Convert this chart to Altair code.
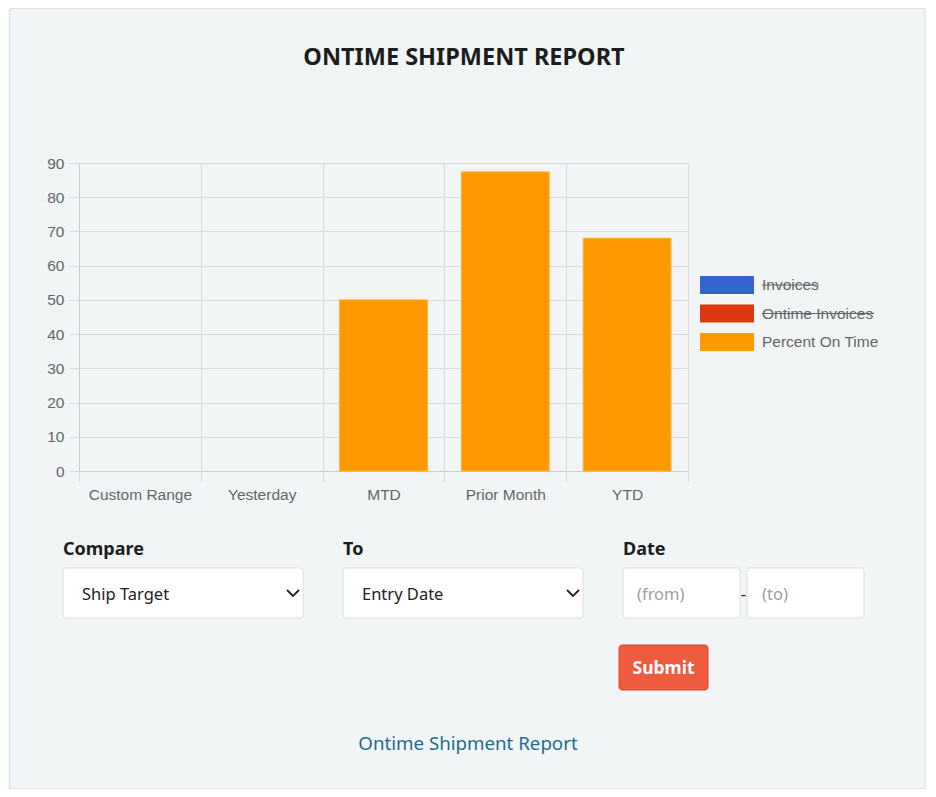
import altair as alt
import pandas as pd

# ---------------- data ----------------
categories = ["Custom Range", "Yesterday", "MTD", "Prior Month", "YTD"]
percent_on_time = [0, 0, 50, 87.4, 68]
series_names = ["Invoices", "Ontime Invoices", "Percent On Time"]
series_colors = ["#3366cc", "#dc3912", "#ff9900"]
y_ticks = [0, 10, 20, 30, 40, 50, 60, 70, 80, 90]

title_text = "ONTIME SHIPMENT REPORT"
form_labels = ["Compare", "To", "Date"]
select_values = ["Ship Target", "Entry Date"]
date_placeholders = ["(from)", "(to)"]
button_label = "Submit"
link_text = "Ontime Shipment Report"

df = pd.DataFrame({
    "period": categories,
    "value": percent_on_time,
    "series": ["Percent On Time"] * len(categories),
})

# ---------------- styling ----------------
W, H = 609, 308
GRID = "#d9dcde"
DOMAIN = "#c9cdd0"
LABEL = "#666666"
AXFONT = "Liberation Sans"
UIFONT = "Noto Sans"
BG = "#f2f5f6"

bars = alt.Chart(df).transform_filter(alt.datum.value > 0).mark_bar(
    width=alt.RelativeBandSize(0.72), color="#ff9900", stroke="#ffab2e", strokeWidth=1,
).encode(
    x=alt.X(
        "period:N",
        sort=categories,
        scale=alt.Scale(domain=categories, paddingInner=0, paddingOuter=0),
        axis=alt.Axis(
            title=None, labelAngle=0, tickBand="extent", tickSize=10,
            labelPadding=6, grid=True,
        ),
    ),
    y=alt.Y(
        "value:Q",
        scale=alt.Scale(domain=[0, 90], nice=False),
        axis=alt.Axis(title=None, values=y_ticks, tickSize=10, labelPadding=5, grid=True),
    ),
    color=alt.Color(
        "series:N",
        scale=alt.Scale(domain=series_names, range=series_colors),
        legend=alt.Legend(
            title=None, orient="none", legendX=639, legendY=113,
            symbolType="M-3,-1H3V1H-3Z", symbolSize=324, symbolStrokeWidth=0,
            symbolOpacity=1, labelOffset=26, rowPadding=10.5, padding=0,
            labelFont=AXFONT, labelFontSize=15.5, labelColor=LABEL,
        ),
    ),
)

one = alt.Data(values=[{"k": 0}])


def txt(text, x, y, size, color, weight="normal", align="left", font=UIFONT):
    return alt.Chart(one).mark_text(
        text=text, align=align, baseline="middle", fontSize=size,
        color=color, fontWeight=weight, font=font,
    ).encode(x=alt.value(x), y=alt.value(y))


def box(x, x2, y, y2, fill, stroke, radius=3):
    return alt.Chart(one).mark_rect(
        fill=fill, stroke=stroke, strokeWidth=1, cornerRadius=radius,
    ).encode(x=alt.value(x), x2=alt.value(x2), y=alt.value(y), y2=alt.value(y2))


def hrule(x, x2, y, color, width=1):
    return alt.Chart(one).mark_rule(color=color, strokeWidth=width).encode(
        x=alt.value(x), x2=alt.value(x2), y=alt.value(y)
    )


def chevron(x, y):
    return alt.Chart(one).mark_point(
        shape="M-1,-0.5L0,0.5L1,-0.5", filled=False, strokeWidth=1.8,
        size=144, color="#222222", opacity=1,
    ).encode(x=alt.value(x), y=alt.value(y))


border = alt.Chart(one).mark_rect(
    fillOpacity=0, stroke="#dfe3e6", strokeWidth=1,
).encode(x=alt.value(-69), x2=alt.value(846), y=alt.value(-154.5), y2=alt.value(625.5))

decor = [
    txt(title_text, 385, -105, 23.5, "#1d1d1d", weight="bold", align="center"),
    hrule(683, 740, 122, LABEL),
    hrule(683, 795, 150.5, LABEL),
    txt(form_labels[0], -16, 386.5, 18, "#1d1d1d", weight="bold"),
    txt(form_labels[1], 264, 386.5, 18, "#1d1d1d", weight="bold"),
    txt(form_labels[2], 544, 386.5, 18, "#1d1d1d", weight="bold"),
    box(-16, 224, 405, 455, "#ffffff", "#dadee1"),
    box(264, 504, 405, 455, "#ffffff", "#dadee1"),
    box(544, 661, 405, 455, "#ffffff", "#dadee1"),
    box(668, 785, 405, 455, "#ffffff", "#dadee1"),
    txt(select_values[0], 3, 431.5, 16.5, "#222222"),
    txt(select_values[1], 283, 431.5, 16.5, "#222222"),
    chevron(214, 430),
    chevron(494, 430),
    txt(date_placeholders[0], 558, 431.5, 16.5, "#9a9fa4"),
    txt(date_placeholders[1], 683, 431.5, 16.5, "#9a9fa4"),
    txt("-", 664.5, 431.5, 16.5, "#222222", align="center"),
    box(540, 629, 482, 527, "#ef5b3e", "#d84a2e"),
    txt(button_label, 584.5, 505.5, 17.5, "#ffffff", weight="bold", align="center"),
    txt(link_text, 389, 581, 18.7, "#1c6d8c", align="center"),
]

chart = alt.layer(border, bars, *decor).properties(
    width=W,
    height=H,
    autosize=alt.AutoSizeParams(type="none"),
    padding={"left": 71, "top": 155, "right": 238, "bottom": 318},
    background=BG,
).configure_view(
    strokeWidth=0,
).configure_axis(
    labelFont=AXFONT,
    labelFontSize=15.5,
    labelColor=LABEL,
    gridColor=GRID,
    gridWidth=1,
    tickColor=GRID,
    domainColor=DOMAIN,
)

chart.save("out.html", embed_options={"renderer": "svg", "actions": False})
